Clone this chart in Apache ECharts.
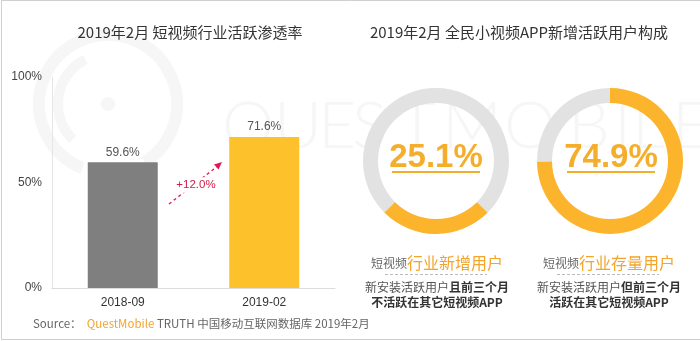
<!DOCTYPE html>
<html>
<head>
<meta charset="utf-8">
<style>
  html, body { margin: 0; padding: 0; background: #fff; }
  #chart { width: 700px; height: 341px; }
</style>
<script src="https://cdn.jsdelivr.net/npm/echarts@6/dist/echarts.min.js"></script>
</head>
<body>
<div id="chart"></div>
<script>
// Left panel: industry active penetration
const periods = ['2018-09', '2019-02'];
const penetration = [59.6, 71.6];
const yTicks = [0, 50, 100];

// Right panel: composition of new active users
const newUserShare = 25.1;      // new to the short-video industry
const existingUserShare = 74.9; // already active in other short-video apps

const CN = '"Microsoft YaHei", "Noto Sans CJK SC", sans-serif';
const LAT = '"Liberation Sans", Arial, "Noto Sans CJK SC", sans-serif';
const YELLOW = '#FBB42C';
const BAR_YELLOW = '#FDC12B';
const RING_GREY = '#E2E2E2';
const ORANGE = '#F3A42C';
const WM = '#f6f6f6';

const chart = echarts.init(document.getElementById('chart'), null, { renderer: 'canvas' });

const growth = (penetration[1] - penetration[0]).toFixed(1);

// faint brand watermark letters
const wmLetters = 'QUESTMOBILE'.split('');
const wmX = [222, 274, 318, 352, 398, 442, 504, 568, 614, 632, 672];

const graphics = [];

// frame
graphics.push({
  type: 'polyline', silent: true, z: 0,
  shape: { points: [[760, 0.5], [1.5, 0.5], [1.5, 339.5], [760, 339.5]] },
  style: { stroke: '#cfcfcf', lineWidth: 1, fill: null }
});

// watermark logo
graphics.push({
  type: 'arc', silent: true, z: 0,
  shape: { cx: 108, cy: 104, r: 69, startAngle: Math.PI * 0.62, endAngle: Math.PI * 2.32 },
  style: { stroke: WM, lineWidth: 12, fill: null }
});
graphics.push({
  type: 'arc', silent: true, z: 0,
  shape: { cx: 108, cy: 104, r: 50, startAngle: Math.PI * 0.75, endAngle: Math.PI * 1.35 },
  style: { stroke: WM, lineWidth: 10, fill: null }
});
graphics.push({
  type: 'circle', silent: true, z: 0,
  shape: { cx: 108, cy: 104, r: 7 },
  style: { fill: WM }
});
wmLetters.forEach((ch, i) => {
  graphics.push({
    type: 'text', silent: true, z: 0,
    left: wmX[i], top: 94,
    style: { text: ch, font: '300 66px Lato, "Open Sans", sans-serif', fill: WM }
  });
});

// titles
graphics.push({
  type: 'text', silent: true, z: 10,
  style: { text: '2019年2月 短视频行业活跃渗透率', x: 190, y: 32, align: 'center', verticalAlign: 'middle',
           font: '15px ' + CN, fill: '#333' }
});
graphics.push({
  type: 'text', silent: true, z: 10,
  style: { text: '2019年2月 全民小视频APP新增活跃用户构成', x: 519, y: 32, align: 'center', verticalAlign: 'middle',
           font: '15px ' + CN, fill: '#333' }
});

// growth arrow between the bars
graphics.push({
  type: 'line', silent: true, z: 10,
  shape: { x1: 169, y1: 204, x2: 219, y2: 165 },
  style: { stroke: '#E0194F', lineWidth: 1.3, lineDash: [3, 3] }
});
graphics.push({
  type: 'polygon', silent: true, z: 10,
  shape: { points: [[222, 162], [214, 164.5], [218.5, 169.5]] },
  style: { fill: '#E0194F' }
});
graphics.push({
  type: 'text', silent: true, z: 11,
  style: { text: '+' + growth + '%', x: 196, y: 185, align: 'center', verticalAlign: 'middle',
           font: '11.5px ' + LAT, fill: '#D41A4A', backgroundColor: '#fff', padding: [2, 1] }
});

// donut centre values with underline
[[436, newUserShare], [611, existingUserShare]].forEach(([cx, v]) => {
  graphics.push({
    type: 'text', silent: true, z: 10,
    style: { text: v.toFixed(1) + '%', x: cx, y: 158, align: 'center', verticalAlign: 'middle',
             font: 'bold 33px ' + LAT, fill: '#F5AE2B' }
  });
  graphics.push({
    type: 'line', silent: true, z: 10,
    shape: { x1: cx - 44, y1: 172, x2: cx + 44, y2: 172 },
    style: { stroke: '#F5AE2B', lineWidth: 2 }
  });
});

// donut captions
function caption(cx, emphasis, line1a, line1b, line2) {
  graphics.push({
    type: 'text', silent: true, z: 10,
    style: {
      text: '{a|短视频}{b|' + emphasis + '}', x: cx, y: 263, align: 'center', verticalAlign: 'middle',
      rich: {
        a: { fontSize: 12, fontFamily: CN, fill: '#666', color: '#666' },
        b: { fontSize: 16, fontFamily: CN, fill: ORANGE, color: ORANGE }
      }
    }
  });
  graphics.push({
    type: 'line', silent: true, z: 10,
    shape: { x1: cx - 52, y1: 274.5, x2: cx + 50, y2: 274.5 },
    style: { stroke: '#bbb', lineWidth: 1, lineDash: [3, 2] }
  });
  graphics.push({
    type: 'text', silent: true, z: 10,
    style: {
      text: '{n|' + line1a + '}{s|' + line1b + '}\n{s|' + line2 + '}', x: cx, y: 295, align: 'center', verticalAlign: 'middle',
      rich: {
        n: { fontSize: 12, fontFamily: CN, color: '#555', fill: '#555', lineHeight: 15 },
        s: { fontSize: 12, fontFamily: CN, fontWeight: 'bold', color: '#333', fill: '#333', lineHeight: 15 }
      }
    }
  });
}
caption(437, '行业新增用户', '新安装活跃用户', '且前三个月', '不活跃在其它短视频APP');
caption(609, '行业存量用户', '新安装活跃用户', '但前三个月', '活跃在其它短视频APP');

// source note
graphics.push({
  type: 'text', silent: true, z: 10,
  style: {
    text: '{g|Source：  }{o|QuestMobile}{g| TRUTH 中国移动互联网数据库 2019年2月}', x: 33, y: 324, verticalAlign: 'middle',
    rich: {
      g: { fontSize: 11.5, fontFamily: CN, color: '#666', fill: '#666' },
      o: { fontSize: 11.5, fontFamily: CN, color: ORANGE, fill: ORANGE }
    }
  }
});

const option = {
  animation: false,
  backgroundColor: '#fff',
  grid: { left: 52, top: 77, width: 283, height: 211 },
  xAxis: {
    type: 'category',
    data: periods,
    axisLine: { lineStyle: { color: '#dcdcdc' } },
    axisTick: { show: false },
    axisLabel: { color: '#333', fontSize: 12, fontFamily: LAT, margin: 9 }
  },
  yAxis: {
    type: 'value',
    min: yTicks[0], max: yTicks[yTicks.length - 1], interval: yTicks[1] - yTicks[0],
    axisLine: { show: true, lineStyle: { color: '#e6e6e6' } },
    axisTick: { show: false },
    splitLine: { show: false },
    axisLabel: { color: '#444', fontSize: 12, fontFamily: LAT, margin: 10, formatter: '{value}%' }
  },
  series: [
    {
      type: 'bar',
      barWidth: 70,
      z: 5,
      data: penetration.map((v, i) => ({ value: v, itemStyle: { color: i === 0 ? '#7F7F7F' : BAR_YELLOW } })),
      label: { show: true, position: 'top', distance: 4, formatter: '{c}%', color: '#555', fontSize: 12, fontFamily: LAT }
    },
    {
      type: 'pie',
      center: [436, 161],
      radius: [58, 73],
      startAngle: 270 + newUserShare * 3.6 / 2,
      clockwise: true,
      silent: true,
      z: 5,
      label: { show: false },
      labelLine: { show: false },
      data: [
        { value: newUserShare, itemStyle: { color: YELLOW } },
        { value: existingUserShare, itemStyle: { color: RING_GREY } }
      ]
    },
    {
      type: 'pie',
      center: [610, 161],
      radius: [58, 73],
      startAngle: 90,
      clockwise: true,
      silent: true,
      z: 5,
      label: { show: false },
      labelLine: { show: false },
      data: [
        { value: existingUserShare, itemStyle: { color: YELLOW } },
        { value: newUserShare, itemStyle: { color: RING_GREY } }
      ]
    }
  ],
  graphic: { elements: graphics }
};

chart.setOption(option);
</script>
</body>
</html>
